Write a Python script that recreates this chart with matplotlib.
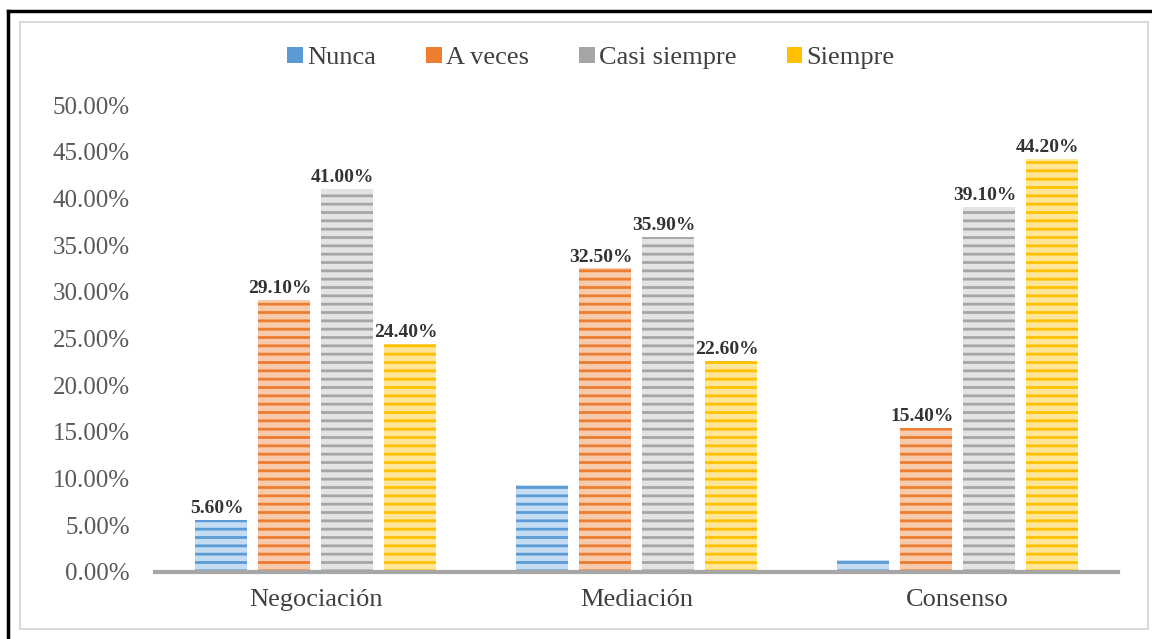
import matplotlib.pyplot as plt
import numpy as np
from matplotlib.patches import Patch, Rectangle
from matplotlib.lines import Line2D

plt.rcParams['font.family'] = ['Liberation Serif', 'DejaVu Serif']
plt.rcParams['hatch.linewidth'] = 2.0

categories = ['Negociación', 'Mediación', 'Consenso']
series = ['Nunca', 'A veces', 'Casi siempre', 'Siempre']
nunca = [5.6, 9.3, 1.3]
a_veces = [29.1, 32.5, 15.4]
casi_siempre = [41.0, 35.9, 39.1]
siempre = [24.4, 22.6, 44.2]
labels_nunca = ['5.60%', '', '']
labels_a_veces = ['29.10%', '32.50%', '15.40%']
labels_casi = ['41.00%', '35.90%', '39.10%']
labels_siempre = ['24.40%', '22.60%', '44.20%']

values = [nunca, a_veces, casi_siempre, siempre]
labels = [labels_nunca, labels_a_veces, labels_casi, labels_siempre]
colors = ['#5B9BD5', '#ED7D31', '#A5A5A5', '#FFC000']
light = ['#C5DDF2', '#F8CBAD', '#E3E3E3', '#FFE699']

fig = plt.figure(figsize=(11.52, 6.39), dpi=100)
ax = fig.add_axes([155 / 1152, 1 - 572 / 639, (1118 - 155) / 1152, (572 - 105) / 639])

x = np.arange(len(categories))
width = 0.162
step = 0.196
for i, (vals, lab) in enumerate(zip(values, labels)):
    pos = x + (i - 1.5) * step
    bars = ax.bar(pos, vals, width, color=light[i], edgecolor=colors[i],
                  linewidth=0, hatch='--')
    for b, t in zip(bars, lab):
        if t:
            ax.annotate(t, (b.get_x() + b.get_width() / 2, b.get_height()),
                        xytext=(-3, 2), textcoords='offset points',
                        ha='center', va='bottom', fontsize=14,
                        fontweight='bold', color='#333333')

ax.set_xlim(-0.5, 2.5)
ax.set_ylim(0, 50)
ax.set_yticks(np.arange(0, 51, 5))
ax.set_yticklabels([f'{v:.2f}%' for v in np.arange(0, 51, 5)])
ax.set_xticks(x)
ax.set_xticklabels(categories)
ax.tick_params(axis='y', length=0, labelsize=18, labelcolor='#595959', pad=18)
ax.tick_params(axis='x', length=0, labelsize=19, labelcolor='#404040', pad=12)
for s in ['top', 'right', 'left']:
    ax.spines[s].set_visible(False)
ax.spines['bottom'].set_color('#a6a6a6')
ax.spines['bottom'].set_linewidth(3)

handles = [Patch(facecolor=c, edgecolor='none') for c in colors]
fig.legend(handles, series, loc='center', bbox_to_anchor=(591 / 1152, 1 - 58 / 639),
           ncol=4, frameon=False, fontsize=19, handlelength=0.6, handleheight=0.6,
           handletextpad=0.15, columnspacing=1.9, labelcolor='#404040')

# frames
fig.patches.append(Rectangle((20 / 1152, 1 - 629 / 639), 1128 / 1152, 607 / 639,
                             transform=fig.transFigure, fill=False,
                             edgecolor='#d9d9d9', linewidth=1.5))
fig.lines.append(Line2D([8 / 1152, 1], [1 - 11 / 639, 1 - 11 / 639],
                        transform=fig.transFigure, color='black', linewidth=2.5))
fig.lines.append(Line2D([8 / 1152, 8 / 1152], [0, 1 - 11 / 639],
                        transform=fig.transFigure, color='black', linewidth=2.5))

fig.savefig('out.png', dpi=100)
